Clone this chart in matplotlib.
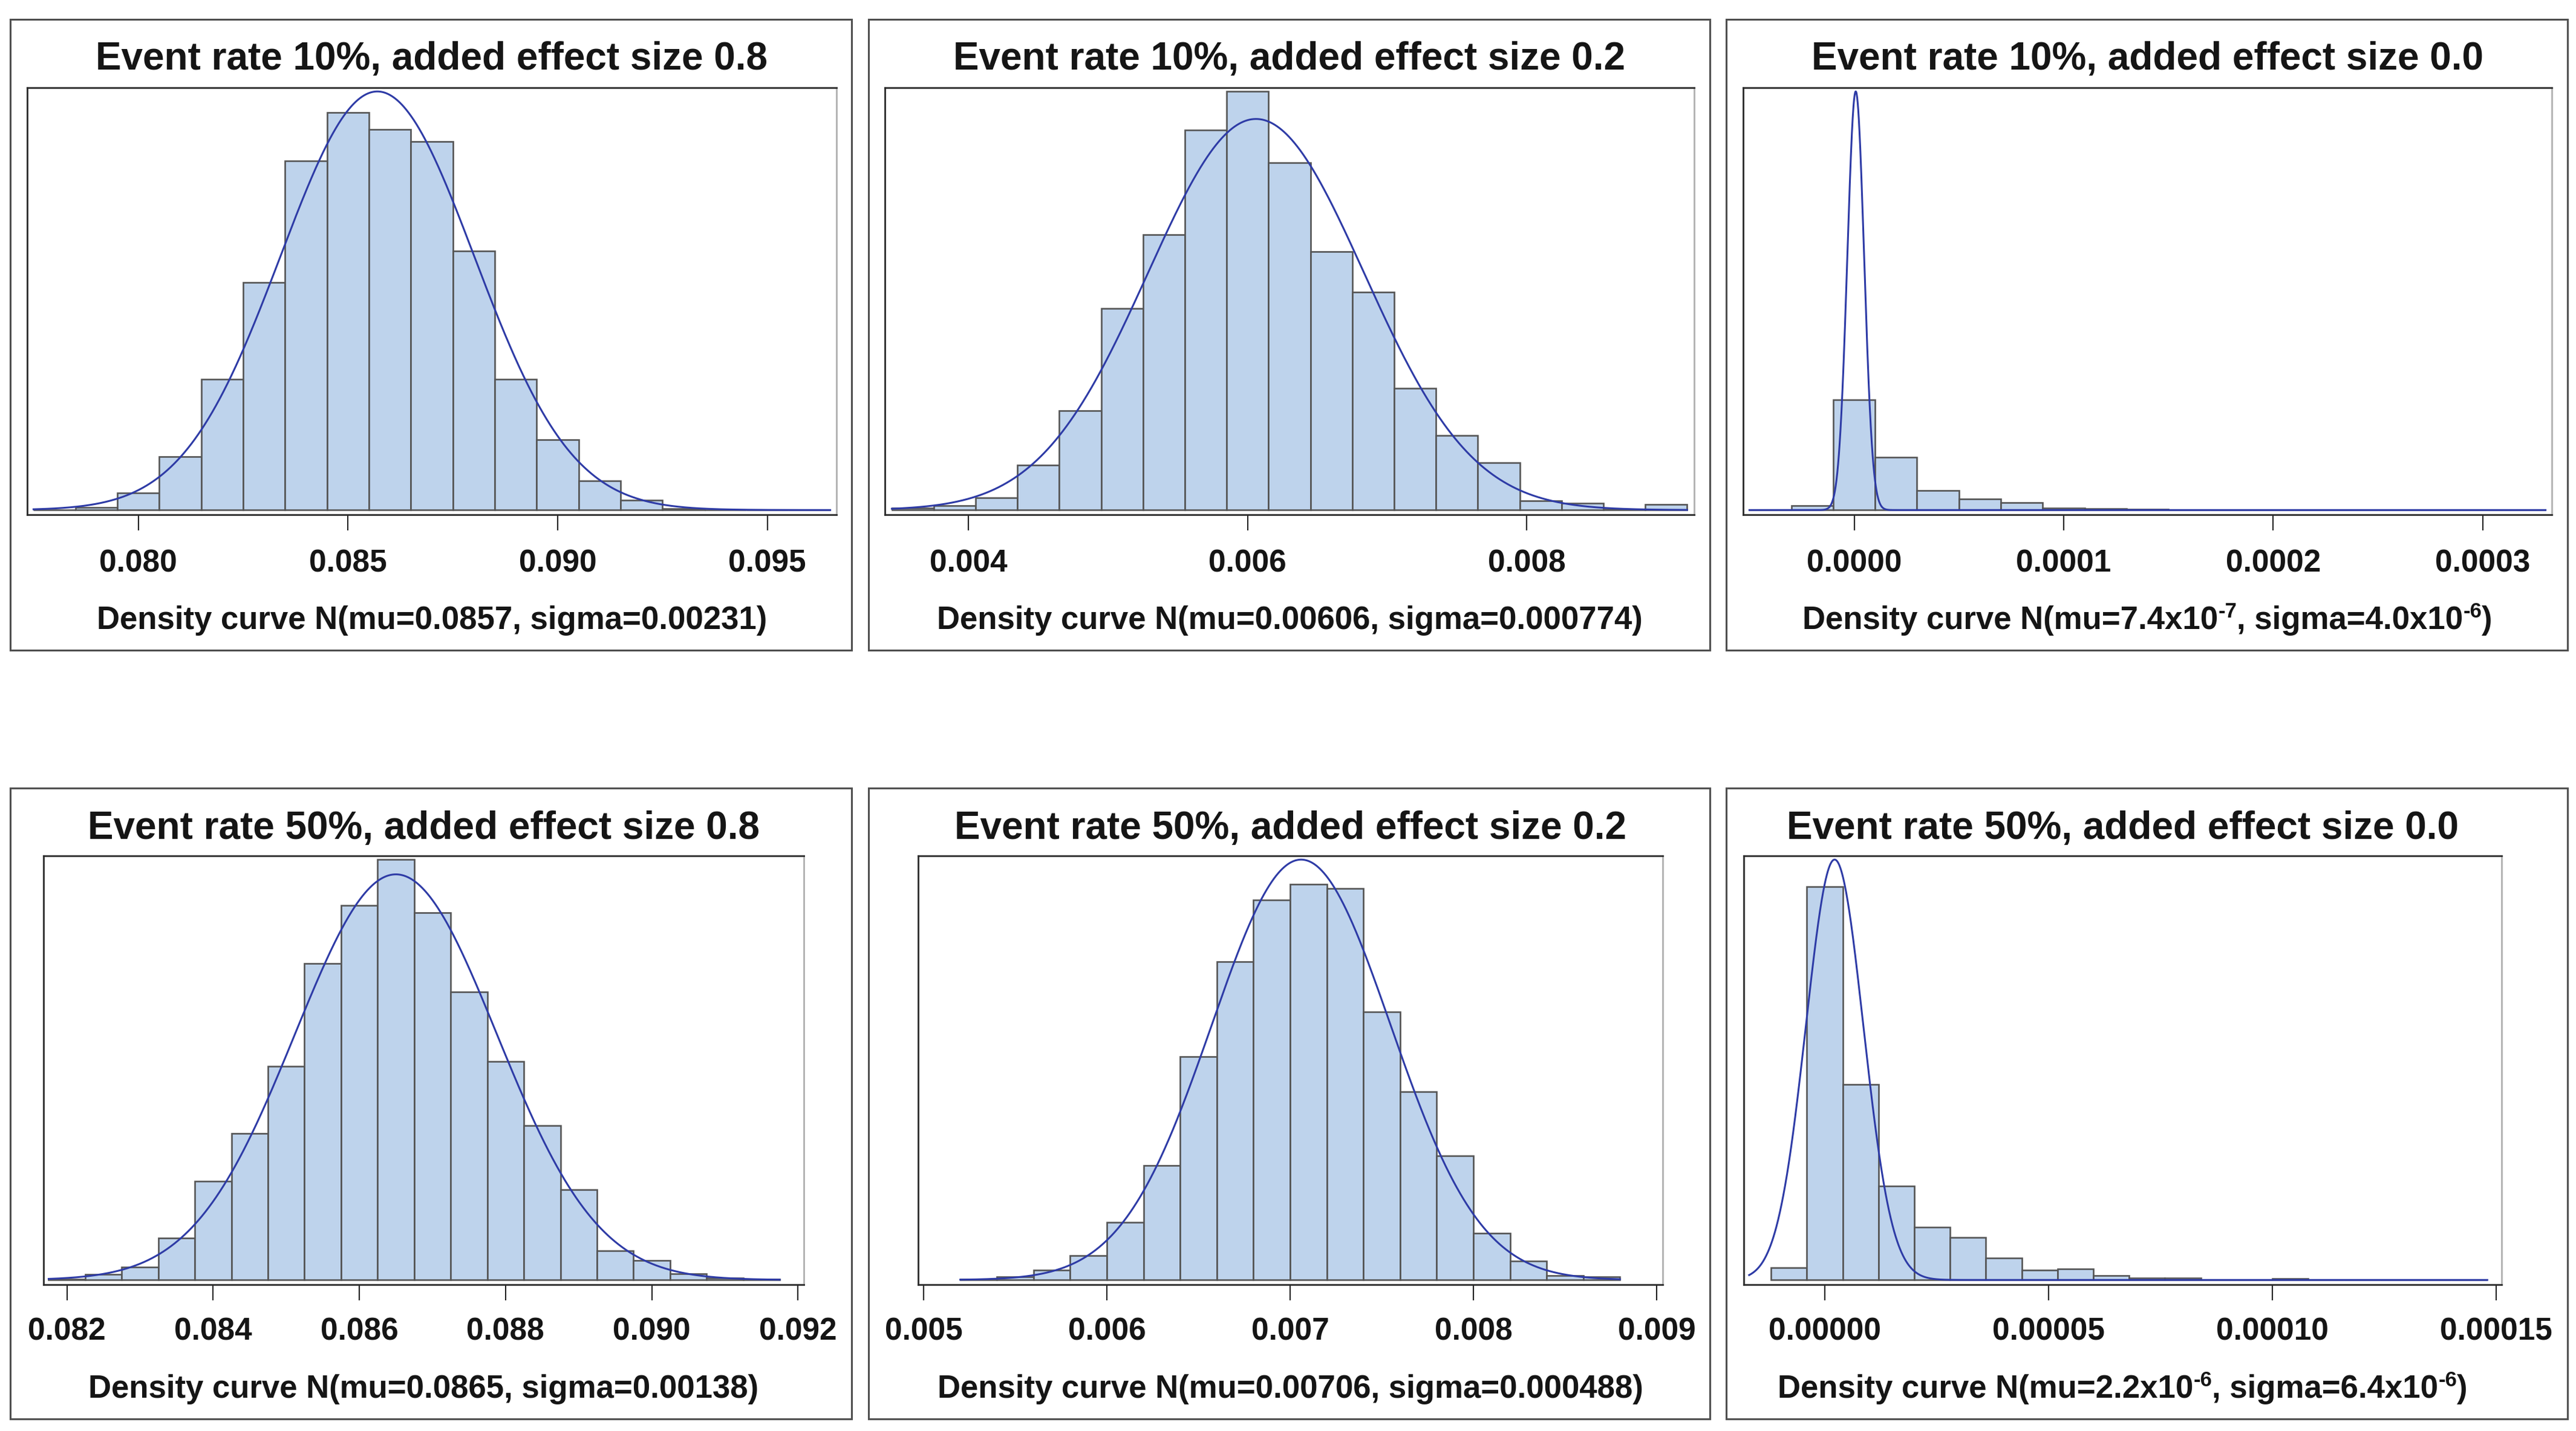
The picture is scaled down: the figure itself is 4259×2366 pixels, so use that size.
import numpy as np
import matplotlib
matplotlib.use('Agg')
import matplotlib.pyplot as plt
from matplotlib.patches import Rectangle

plt.rcParams['font.family'] = ['Liberation Sans', 'DejaVu Sans']
plt.rcParams['font.weight'] = 'bold'

# Panel titles and captions (caption pieces: text, is_superscript)
titles = [
    'Event rate 10%, added effect size 0.8',
    'Event rate 10%, added effect size 0.2',
    'Event rate 10%, added effect size 0.0',
    'Event rate 50%, added effect size 0.8',
    'Event rate 50%, added effect size 0.2',
    'Event rate 50%, added effect size 0.0',
]
captions = [
    [('Density curve N(mu=0.0857, sigma=0.00231)', False)],
    [('Density curve N(mu=0.00606, sigma=0.000774)', False)],
    [('Density curve N(mu=7.4x10', False), ('-7', True),
     (', sigma=4.0x10', False), ('-6', True), (')', False)],
    [('Density curve N(mu=0.0865, sigma=0.00138)', False)],
    [('Density curve N(mu=0.00706, sigma=0.000488)', False)],
    [('Density curve N(mu=2.2x10', False), ('-6', True),
     (', sigma=6.4x10', False), ('-6', True), (')', False)],
]

# Normal density parameters
mu = [0.0857, 0.00606, 7.4e-7, 0.0865, 0.00706, 2.2e-6]
sigma = [0.00231, 0.000774, 4.0e-6, 0.00138, 0.000488, 6.4e-6]

# Histogram bins: first bin midpoint, bin width, percent per bin
first_mid = [0.078, 0.0036, -4e-5, 0.0820, 0.0053, -8e-6]
bin_width = [0.001, 0.0003, 2e-5, 0.0005, 0.0002, 8e-6]

pct_10_08 = [0.02, 0.1, 0.7, 2.2, 5.4, 9.4, 14.4, 16.4, 15.7, 15.2, 10.7,
             5.4, 2.9, 1.2, 0.4, 0.05, 0.02, 0.0, 0.02]
pct_10_02 = [0.08, 0.17, 0.49, 1.78, 3.94, 7.97, 10.89, 15.02, 16.55, 13.74,
             10.22, 8.61, 4.82, 2.94, 1.88, 0.37, 0.27, 0.03, 0.23]
pct_10_00 = [0.0, 2.1, 52.4, 25.1, 9.3, 5.3, 3.6, 1.05, 0.63, 0.42, 0.21,
             0.1, 0.05, 0.0, 0.0, 0.0, 0.0, 0.0, 0.0]
pct_50_08 = [0.03, 0.20, 0.45, 1.49, 3.52, 5.22, 7.61, 11.28, 13.34, 14.98,
             13.09, 10.27, 7.78, 5.50, 3.21, 1.05, 0.70, 0.23, 0.08, 0.02]
pct_50_02 = [0.02, 0.12, 0.38, 0.94, 2.23, 4.45, 8.68, 12.38, 14.78, 15.39,
             15.23, 10.43, 7.32, 4.83, 1.82, 0.74, 0.17, 0.12]
pct_50_00 = [1.43, 46.65, 23.22, 11.15, 6.29, 5.01, 2.61, 1.18, 1.33, 0.51,
             0.26, 0.20, 0.05, 0.03, 0.15, 0.02, 0.0, 0.0, 0.0, 0.0]
percents = [pct_10_08, pct_10_02, pct_10_00, pct_50_08, pct_50_02, pct_50_00]

# Range covered by the density curve
curve_lo = [0.0775, 0.00345, -5e-5, 0.08175, 0.0052, -1.69e-5]
curve_hi = [0.0965, 0.00915, 3.3e-4, 0.09175, 0.0088, 1.48e-4]

# Axis ranges and ticks
x_min = [0.07735, 0.0034, -5.3e-5, 0.08168, 0.00497, -1.81e-5]
x_max = [0.09665, 0.0092, 3.33e-4, 0.09208, 0.009033, 1.512e-4]
tick_vals = [
    [0.080, 0.085, 0.090, 0.095],
    [0.004, 0.006, 0.008],
    [0.0, 0.0001, 0.0002, 0.0003],
    [0.082, 0.084, 0.086, 0.088, 0.090, 0.092],
    [0.005, 0.006, 0.007, 0.008, 0.009],
    [0.0, 0.00005, 0.00010, 0.00015],
]
tick_labels = [
    ['0.080', '0.085', '0.090', '0.095'],
    ['0.004', '0.006', '0.008'],
    ['0.0000', '0.0001', '0.0002', '0.0003'],
    ['0.082', '0.084', '0.086', '0.088', '0.090', '0.092'],
    ['0.005', '0.006', '0.007', '0.008', '0.009'],
    ['0.00000', '0.00005', '0.00010', '0.00015'],
]

W, H = 4259, 2366
fig = plt.figure(figsize=(W / 100, H / 100), dpi=100)
renderer = fig.canvas.get_renderer()

# pixel layout (x0, x1) of plot areas and panel boxes
axes_x = [(45, 1383), (1463, 2801), (2882, 4219),
          (72, 1329), (1518, 2749), (2883, 4136)]
axes_y = [(145, 851), (1415, 2124)]
box_x = [(17, 1408), (1436, 2827), (2854, 4245)]
box_y = [(32, 1075), (1303, 2346)]
title_base = [115, 1387]
caption_base = [1040, 2311]
tick_pad = [22, 20]

fill = '#BED3EC'
edge = '#555555'
curve_color = '#2E3BA6'
text_color = '#151515'
cap_size = 38
sup_size = 25


def draw_caption(xc_px, base_px, pieces):
    # lay pieces side by side, superscripts raised
    arts = []
    for txt, sup in pieces:
        t = fig.text(0, 0, txt, fontsize=sup_size if sup else cap_size,
                     fontweight='bold', color=text_color, ha='left',
                     va='baseline')
        arts.append((t, sup, t.get_window_extent(renderer).width))
    total = sum(w for _, _, w in arts)
    x = xc_px - total / 2
    for t, sup, w in arts:
        y = base_px - (19 if sup else 0)
        t.set_position((x / W, 1 - y / H))
        x += w


for i in range(6):
    row, col = divmod(i, 3)
    bx0, bx1 = box_x[col]
    by0, by1 = box_y[row]
    fig.patches.append(Rectangle((bx0 / W, 1 - by1 / H), (bx1 - bx0) / W,
                                 (by1 - by0) / H, transform=fig.transFigure,
                                 fill=False, edgecolor='#505050', linewidth=2.2))

    x0, x1 = axes_x[i]
    y0, y1 = axes_y[row]
    ax = fig.add_axes([x0 / W, 1 - y1 / H, (x1 - x0) / W, (y1 - y0) / H])

    pct = np.array(percents[i])
    mids = first_mid[i] + bin_width[i] * np.arange(len(pct))
    ax.bar(mids, pct, width=bin_width[i], color=fill, edgecolor=edge,
           linewidth=1.9, zorder=2)

    xs = np.linspace(curve_lo[i], curve_hi[i], 3000)
    ys = 100 * bin_width[i] * np.exp(-0.5 * ((xs - mu[i]) / sigma[i]) ** 2) \
        / (sigma[i] * np.sqrt(2 * np.pi))
    ax.plot(xs, ys, color=curve_color, linewidth=2.2, zorder=3)

    top = max(ys.max(), pct.max()) * 1.009
    ax.set_ylim(-0.011 * top, top)
    ax.set_xlim(x_min[i], x_max[i])
    ax.set_yticks([])
    ax.set_xticks(tick_vals[i])
    ax.set_xticklabels(tick_labels[i], fontsize=37, fontweight='bold',
                       color=text_color)
    ax.tick_params(axis='x', length=18.7, width=1.5, pad=tick_pad[row],
                   color='#222222')
    for side in ['top', 'left', 'bottom']:
        ax.spines[side].set_color('#2a2a2a')
        ax.spines[side].set_linewidth(2.0)
    ax.spines['right'].set_color('#b0b0b0')
    ax.spines['right'].set_linewidth(2.0)

    xc = (x0 + x1) / 2
    fig.text(xc / W, 1 - title_base[row] / H, titles[i], fontsize=46,
             fontweight='bold', ha='center', va='baseline', color=text_color)
    draw_caption(xc, caption_base[row], captions[i])

fig.savefig('out.png', dpi=100, facecolor='white')
